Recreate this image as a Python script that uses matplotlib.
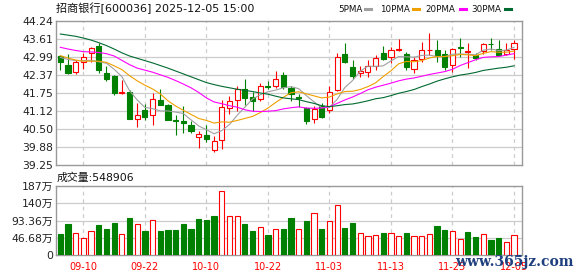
import matplotlib
matplotlib.use("Agg")
import matplotlib.pyplot as plt
from matplotlib.patches import Rectangle
from matplotlib.lines import Line2D

plt.rcParams['font.family'] = ['DejaVu Sans', 'Noto Sans CJK SC']

# ---------------- data ----------------
title = "招商银行[600036] 2025-12-05 15:00"
vol_label = "成交量:548906"

opens = [43.01, 42.70, 42.45, 42.81, 43.13, 43.38, 42.44, 42.33, 41.73, 41.77,
         40.84, 41.16, 40.99, 41.51, 41.32, 40.80, 40.77, 40.62, 40.22, 40.30,
         39.77, 40.10, 41.22, 41.51, 41.88, 41.60, 41.53, 41.99, 41.97, 42.35,
         41.92, 41.61, 41.22, 40.83, 41.30, 41.16, 41.84, 43.10, 42.63, 42.43,
         42.48, 42.69, 43.14, 42.99, 43.23, 43.09, 42.58, 42.90, 43.22, 43.22,
         43.09, 42.71, 43.33, 43.16, 43.06, 43.19, 43.45, 43.25, 43.08, 43.25]
highs = [43.07, 43.09, 42.87, 43.13, 43.34, 43.48, 42.66, 42.36, 42.19, 41.84,
         41.40, 41.36, 41.74, 41.88, 41.36, 40.99, 41.28, 40.78, 40.41, 40.62,
         40.24, 41.51, 41.62, 41.97, 42.22, 41.77, 42.08, 42.15, 42.50, 42.48,
         41.99, 41.71, 41.25, 41.30, 41.38, 41.97, 43.12, 43.48, 42.88, 42.67,
         42.87, 43.05, 43.36, 43.33, 43.61, 43.17, 42.97, 43.51, 43.82, 43.57,
         43.23, 43.30, 43.63, 43.46, 43.13, 43.48, 43.63, 43.57, 43.46, 43.58]
lows = [42.55, 42.38, 42.40, 42.58, 42.80, 42.44, 42.15, 41.68, 41.72, 40.83,
        40.55, 40.82, 40.64, 41.31, 40.81, 40.28, 40.36, 40.36, 39.84, 40.04,
        39.69, 39.81, 41.01, 41.13, 41.31, 41.13, 41.45, 41.88, 41.91, 41.89,
        41.47, 41.25, 40.67, 40.70, 40.87, 41.04, 41.80, 42.79, 42.24, 42.30,
        42.31, 42.54, 42.88, 42.76, 43.20, 42.54, 42.44, 42.82, 43.05, 42.80,
        42.53, 42.46, 42.97, 42.60, 42.87, 43.09, 43.23, 43.03, 43.04, 42.91]
closes = [42.80, 42.44, 42.81, 43.00, 43.29, 42.54, 42.22, 41.73, 41.76, 40.83,
          40.97, 40.92, 41.53, 41.34, 40.82, 40.77, 40.69, 40.41, 40.32, 40.16,
          40.07, 41.24, 41.48, 41.89, 41.58, 41.47, 41.97, 41.95, 42.22, 41.95,
          41.69, 41.58, 40.78, 41.17, 40.90, 41.76, 43.00, 42.82, 42.34, 42.51,
          42.69, 42.94, 42.91, 43.22, 43.25, 42.65, 42.87, 43.22, 43.24, 43.02,
          42.64, 43.25, 43.30, 43.18, 42.95, 43.43, 43.42, 43.05, 43.23, 43.46]

ma5 = [42.97, 42.90, 42.86, 42.86, 42.87, 42.82, 42.77, 42.56, 42.31, 41.82,
       41.50, 41.24, 41.20, 41.12, 41.12, 41.08, 41.03, 40.81, 40.60, 40.47,
       40.33, 40.44, 40.65, 40.97, 41.25, 41.53, 41.68, 41.78, 41.84, 41.92,
       41.96, 41.89, 41.65, 41.43, 41.23, 41.24, 41.52, 41.93, 42.17, 42.49,
       42.67, 42.66, 42.68, 42.85, 43.00, 42.99, 42.98, 43.04, 43.05, 43.00,
       43.00, 43.08, 43.09, 43.08, 43.06, 43.22, 43.26, 43.21, 43.22, 43.32]
ma10 = [43.03, 42.95, 42.88, 42.84, 42.84, 42.84, 42.80, 42.68, 42.55, 42.34,
        42.16, 42.01, 41.88, 41.71, 41.47, 41.29, 41.14, 41.00, 40.86, 40.79,
        40.70, 40.74, 40.73, 40.79, 40.86, 40.93, 41.06, 41.22, 41.41, 41.59,
        41.75, 41.78, 41.71, 41.64, 41.57, 41.60, 41.71, 41.79, 41.80, 41.86,
        41.96, 42.09, 42.31, 42.51, 42.75, 42.83, 42.82, 42.86, 42.95, 43.00,
        43.00, 43.03, 43.07, 43.06, 43.03, 43.11, 43.17, 43.15, 43.15, 43.19]
ma20 = [43.32, 43.26, 43.21, 43.17, 43.16, 43.14, 43.10, 43.02, 42.87, 42.72,
        42.60, 42.53, 42.46, 42.37, 42.28, 42.17, 42.05, 41.92, 41.76, 41.57,
        41.43, 41.37, 41.30, 41.25, 41.16, 41.11, 41.10, 41.11, 41.13, 41.19,
        41.23, 41.26, 41.22, 41.21, 41.22, 41.27, 41.38, 41.50, 41.60, 41.72,
        41.85, 41.94, 42.01, 42.08, 42.16, 42.22, 42.26, 42.32, 42.38, 42.43,
        42.48, 42.56, 42.69, 42.79, 42.89, 42.97, 42.99, 43.00, 43.05, 43.10]
ma30 = [43.78, 43.74, 43.70, 43.64, 43.57, 43.48, 43.38, 43.26, 43.13, 43.02,
        42.94, 42.86, 42.78, 42.69, 42.60, 42.50, 42.40, 42.30, 42.20, 42.10,
        42.03, 41.97, 41.92, 41.87, 41.83, 41.79, 41.74, 41.70, 41.63, 41.57,
        41.54, 41.51, 41.44, 41.38, 41.30, 41.27, 41.30, 41.34, 41.36, 41.41,
        41.47, 41.54, 41.58, 41.65, 41.73, 41.79, 41.86, 41.96, 42.05, 42.15,
        42.23, 42.30, 42.36, 42.40, 42.45, 42.52, 42.56, 42.60, 42.63, 42.68]

# volume in 万 (10k)
volumes = [56.9, 84.0, 58.7, 45.2, 64.1, 81.3, 70.5, 86.7, 56.0, 100.3,
           83.1, 65.0, 93.9, 65.0, 67.7, 67.7, 84.0, 70.5, 97.0, 94.8,
           105.7, 172.5, 105.7, 105.7, 84.0, 65.0, 75.0, 54.2, 69.6, 70.5,
           100.3, 69.6, 92.1, 112.9, 70.5, 91.2, 135.5, 73.2, 86.7, 58.7,
           50.6, 53.3, 59.6, 58.7, 50.6, 59.6, 50.6, 50.6, 56.0, 78.6,
           67.7, 64.1, 42.5, 62.3, 48.8, 56.0, 40.6, 45.2, 35.2, 54.89]
# r = up day (red, hollow), g = down day (green, filled)
vol_dir = list("ggrrrgggrg" "rgrggggggg" "grrrggrgrg"
               "grgrgrrggr" "rrgrrgrrrg" "grrggrggrr")

date_pos = [3, 11, 19, 27, 35, 43, 51, 59]
date_labels = ["09-10", "09-22", "10-10", "10-22", "11-03", "11-13", "11-25", "12-05"]

price_ticks = [39.25, 39.88, 40.50, 41.12, 41.75, 42.37, 42.99, 43.61, 44.24]
vol_ticks = [0, 46.68, 93.36, 140, 187]
vol_tick_labels = ["0", "46.68万", "93.36万", "140万", "187万"]

ma_names = ["5PMA", "10PMA", "20PMA", "30PMA"]

# ---------------- styles ----------------
RED = "#ff0000"
GREEN = "#008000"
MA_COLORS = ["#a0a0a0", "#f0a000", "#ff00ff", "#006a30"]
FRAME = "#999999"
GRID = "#cccccc"

W, H = 578, 276
fig = plt.figure(figsize=(W / 100, H / 100), dpi=100)
fig.patch.set_facecolor("white")


def fx(px):
    return px / W


def fy(py):
    return 1 - py / H


ax = fig.add_axes([fx(56), fy(165), fx(522) - fx(56), fy(20.7) - fy(165)])
axv = fig.add_axes([fx(56), fy(255), fx(522) - fx(56), fy(186) - fy(255)])

n = len(closes)
xs = list(range(n))
bw = 0.66

for a in (ax, axv):
    a.set_xlim(-0.56, 60.04)
    for s in a.spines.values():
        s.set_color(FRAME)
        s.set_linewidth(1.0)
    for p in date_pos:
        a.axvline(p, color=GRID, lw=0.9, dashes=(3, 3), zorder=0)
    a.tick_params(length=0, colors="#222222")

# price panel
ax.set_ylim(price_ticks[0], price_ticks[-1])
ax.set_yticks(price_ticks)
ax.set_yticklabels(["%.2f" % t for t in price_ticks], fontsize=7.8)
ax.tick_params(axis="y", pad=2)
ax.set_xticks([])
for t in price_ticks[1:-1]:
    ax.axhline(t, color=GRID, lw=0.9, zorder=0)

for i in xs:
    o, h, l, c = opens[i], highs[i], lows[i], closes[i]
    up = c >= o
    col = RED if up else GREEN
    ax.vlines(i, l, h, color=col, lw=0.8, zorder=2)
    bottom = min(o, c)
    height = max(abs(c - o), 0.012)
    ax.add_patch(Rectangle((i - bw / 2, bottom), bw, height,
                           facecolor="white" if up else GREEN,
                           edgecolor=col, lw=0.8, zorder=3))

for series, colr in zip([ma5, ma10, ma20, ma30], MA_COLORS):
    ax.plot(xs, series, color=colr, lw=0.8, zorder=4)

# volume panel
axv.set_ylim(0, 187)
axv.set_yticks(vol_ticks)
axv.set_yticklabels(vol_tick_labels, fontsize=7.8)
axv.tick_params(axis="y", pad=2)
for t in vol_ticks[1:-1]:
    axv.axhline(t, color=GRID, lw=0.9, zorder=0)
axv.bar(xs, volumes, width=0.68,
        color=["white" if d == "r" else GREEN for d in vol_dir],
        edgecolor=[RED if d == "r" else GREEN for d in vol_dir],
        lw=0.8, zorder=3)
axv.set_xticks(date_pos)
axv.set_xticklabels(date_labels, fontsize=7, color=RED)
axv.tick_params(axis="x", pad=5)

# texts
fig.text(fx(56), fy(8.5), title, fontsize=8, va="center", ha="left", color="#111111")
fig.text(fx(57), fy(177.7), vol_label, fontsize=7.8, va="center", ha="left", color="#111111")

leg_x = [338.7, 379.7, 425.7, 471.7]
dash_x = [(365, 371), (413, 419), (460, 466), (505, 511)]
for name, lx, (d0, d1), colr in zip(ma_names, leg_x, dash_x, MA_COLORS):
    fig.text(fx(lx), fy(9), name, fontsize=6.3, va="center", ha="left", color="#111111")
    fig.add_artist(Line2D([fx(d0), fx(d1)], [fy(9), fy(9)], color=colr, lw=2.2))

fig.text(fx(455), fy(262), "www.365jz.com", fontsize=10, fontweight="bold",
         family="DejaVu Serif", color="#1f3f7f", va="center", ha="left")

fig.savefig("out.png", dpi=100, facecolor="white")
